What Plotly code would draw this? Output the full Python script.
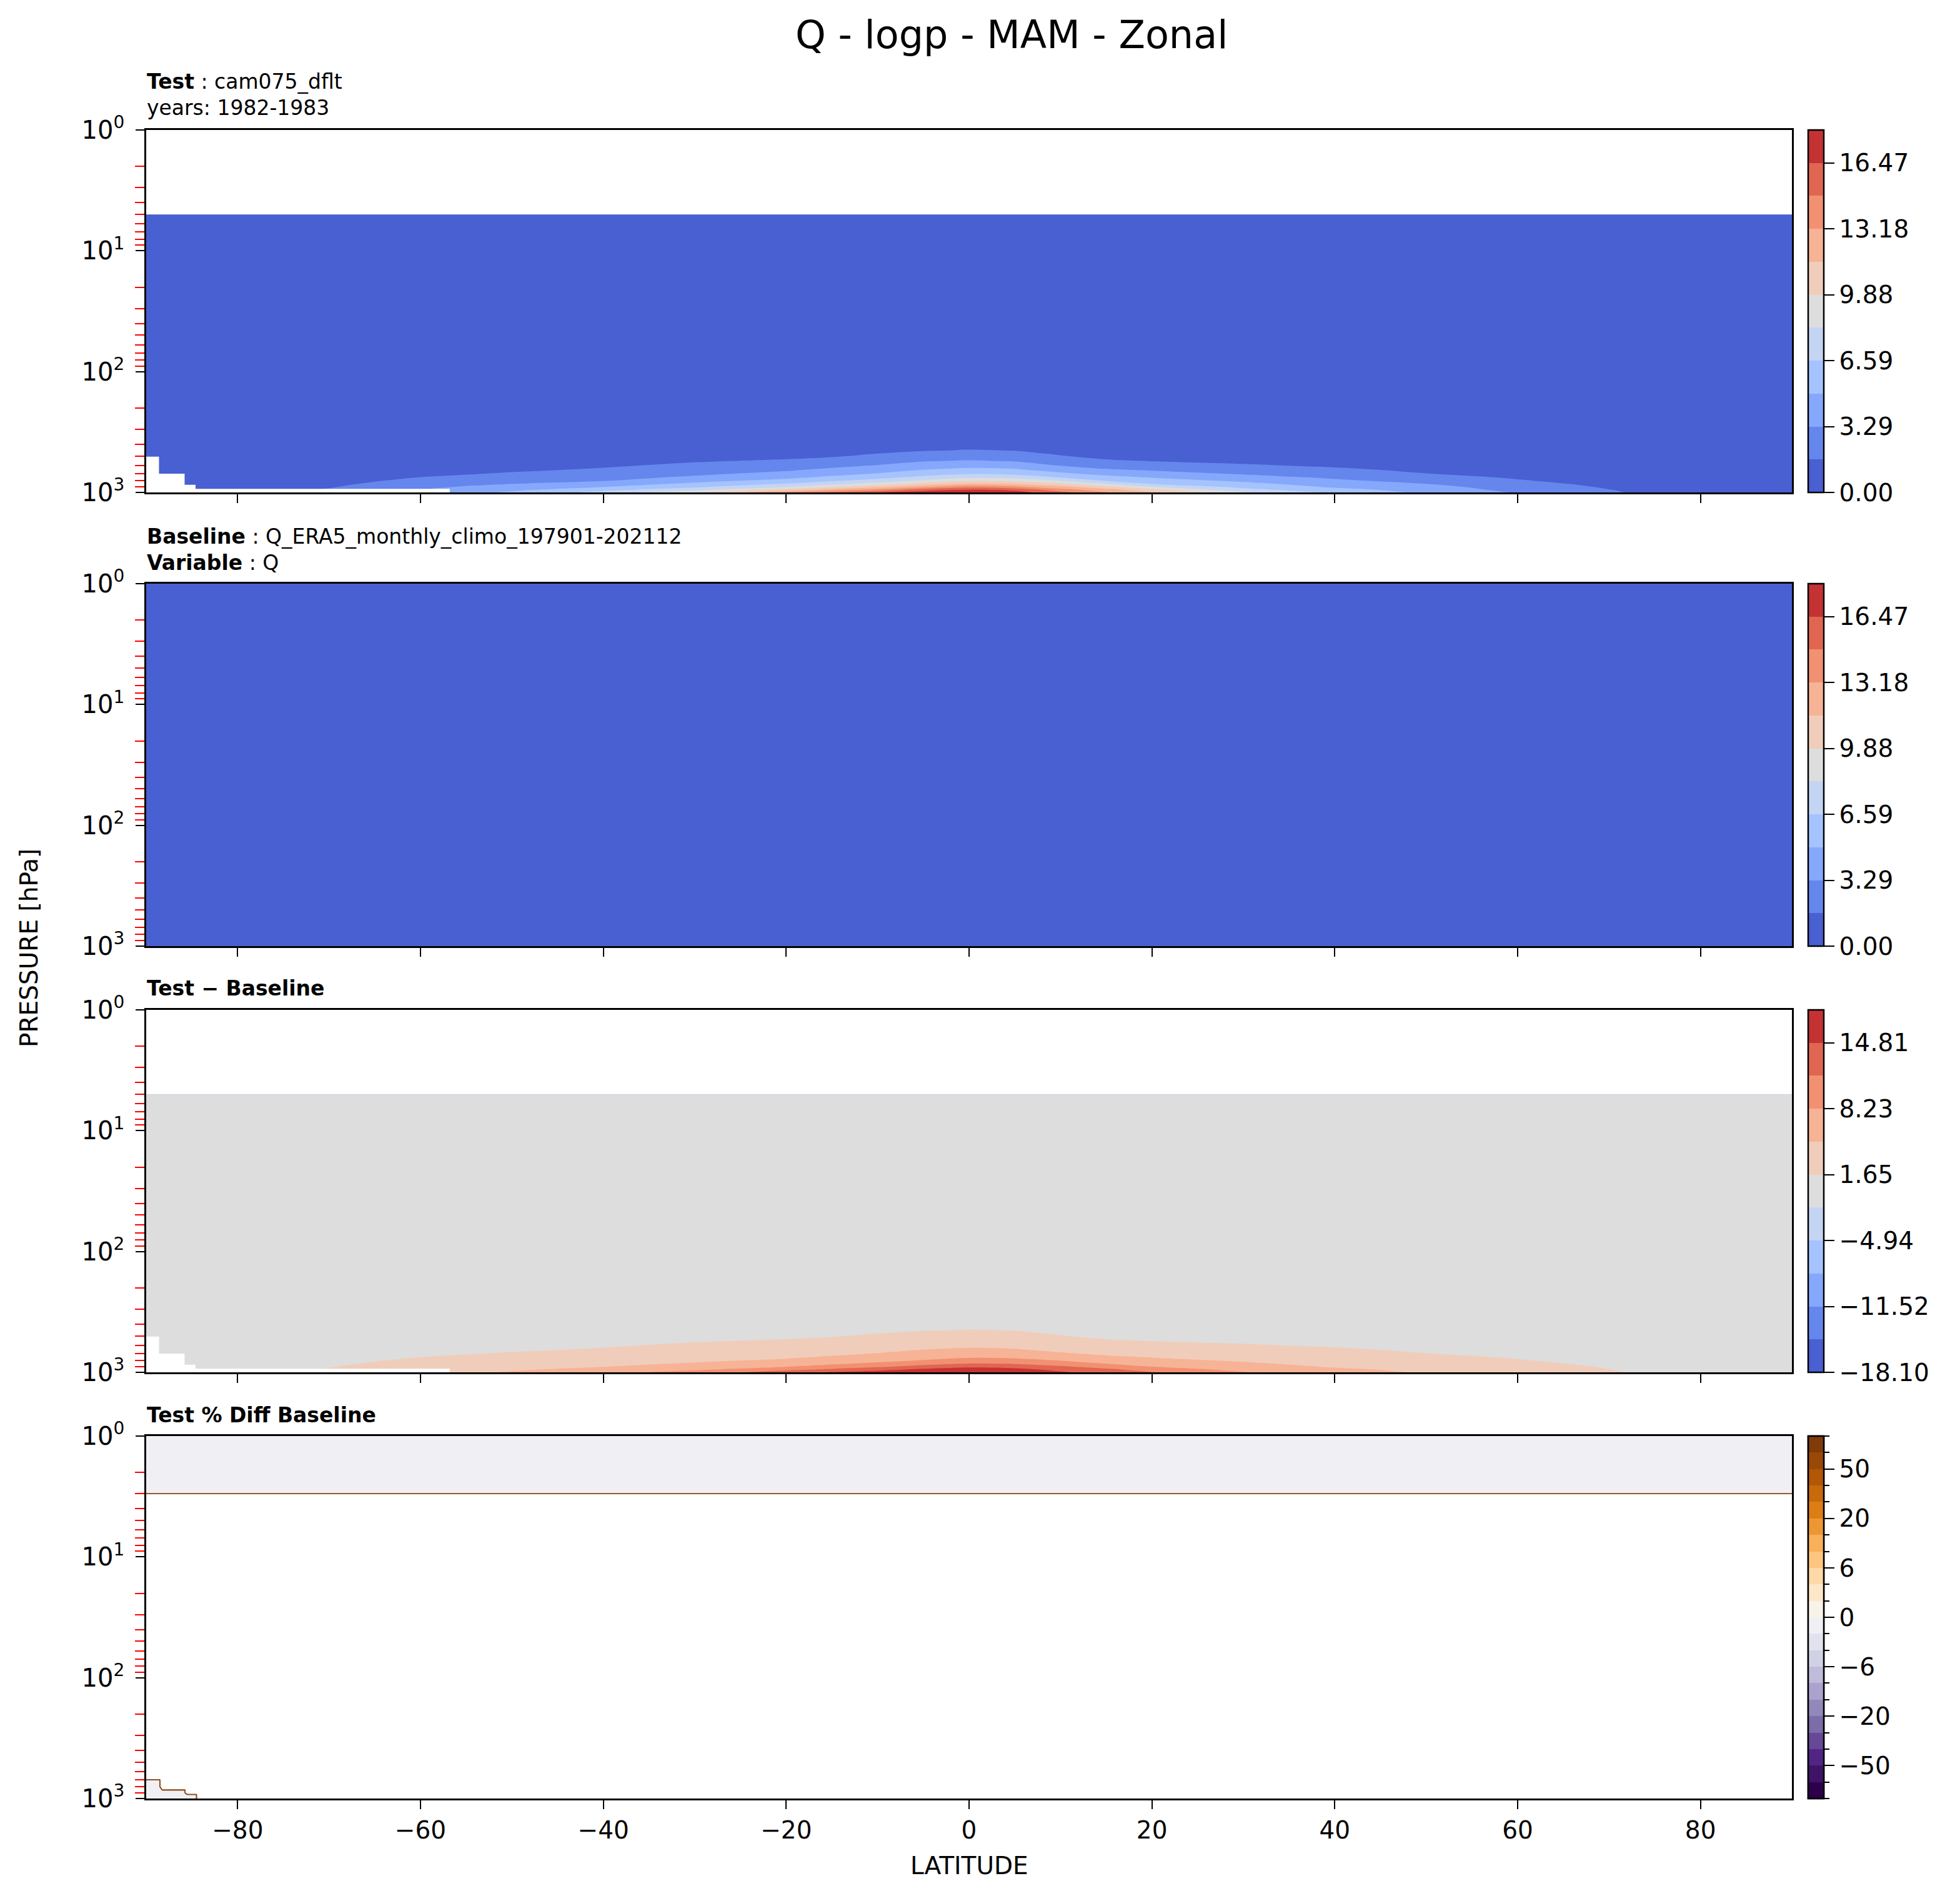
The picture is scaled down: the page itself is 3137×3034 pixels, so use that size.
import numpy as np
import plotly.graph_objects as go

W, H = 3137, 3034          # browser window
OFF = 8                     # default page margin of the html body
FW, FH = W - 2 * OFF, H - 2 * OFF
FONT = "DejaVu Sans"

# ---------------- data ----------------
lat = [-90, -80, -70, -60, -50, -40, -30, -20, -15, -10, -5, 0, 5, 10, 15, 20, 30, 40, 50, 60, 70, 80, 90]
lev = [5, 100, 300, 400, 450, 500, 550, 600, 650, 700, 750, 800, 850, 900, 950, 1000]

# Test Q [g/kg], rows follow lev, columns follow lat
q_test = [
    [0.0038, 0.0039, 0.0040, 0.0040, 0.0041, 0.0041, 0.0042, 0.0042, 0.0042, 0.0042, 0.0042, 0.0042, 0.0042, 0.0042, 0.0042, 0.0042, 0.0042, 0.0041, 0.0041, 0.0040, 0.0040, 0.0039, 0.0038],
    [0.002, 0.002, 0.002, 0.003, 0.003, 0.004, 0.005, 0.006, 0.007, 0.007, 0.008, 0.008, 0.008, 0.007, 0.007, 0.006, 0.005, 0.004, 0.003, 0.003, 0.002, 0.002, 0.002],
    [0.008, 0.010, 0.015, 0.030, 0.050, 0.080, 0.120, 0.170, 0.220, 0.280, 0.320, 0.350, 0.330, 0.250, 0.200, 0.150, 0.120, 0.080, 0.050, 0.030, 0.020, 0.015, 0.010],
    [0.02, 0.03, 0.05, 0.10, 0.18, 0.28, 0.40, 0.55, 0.70, 0.95, 1.10, 1.20, 1.15, 0.85, 0.60, 0.50, 0.40, 0.30, 0.20, 0.12, 0.07, 0.05, 0.04],
    [0.03, 0.05, 0.08, 0.16, 0.28, 0.43, 0.60, 0.85, 1.05, 1.30, 1.58, 1.72, 1.63, 1.20, 0.85, 0.75, 0.60, 0.45, 0.30, 0.20, 0.12, 0.08, 0.06],
    [0.04, 0.07, 0.13, 0.26, 0.45, 0.68, 0.95, 1.25, 1.50, 1.94, 2.39, 2.56, 2.41, 1.73, 1.20, 1.05, 0.90, 0.70, 0.45, 0.30, 0.18, 0.12, 0.09],
    [0.05, 0.10, 0.20, 0.40, 0.68, 1.00, 1.50, 1.89, 2.21, 2.66, 3.21, 3.43, 3.21, 2.51, 1.88, 1.62, 1.30, 1.00, 0.65, 0.45, 0.26, 0.17, 0.13],
    [0.07, 0.14, 0.30, 0.60, 1.00, 1.42, 2.02, 2.48, 2.90, 3.39, 4.07, 4.40, 4.18, 3.29, 2.67, 2.36, 1.86, 1.40, 0.95, 0.65, 0.36, 0.23, 0.17],
    [0.09, 0.19, 0.42, 0.85, 1.35, 1.88, 2.49, 3.08, 3.63, 4.20, 4.95, 5.39, 5.18, 4.26, 3.48, 3.10, 2.50, 1.97, 1.30, 0.90, 0.48, 0.30, 0.22],
    [0.11, 0.25, 0.58, 1.20, 1.84, 2.33, 2.96, 3.77, 4.40, 5.04, 5.90, 6.43, 6.16, 5.29, 4.45, 3.95, 3.13, 2.50, 1.68, 1.15, 0.62, 0.38, 0.28],
    [0.13, 0.32, 0.78, 1.68, 2.33, 2.78, 3.55, 4.53, 5.28, 6.05, 6.99, 7.84, 7.55, 6.47, 5.46, 4.85, 3.86, 3.03, 2.24, 1.45, 0.80, 0.47, 0.34],
    [0.16, 0.40, 1.00, 2.10, 2.81, 3.23, 4.42, 5.50, 6.41, 7.29, 8.47, 9.68, 9.41, 8.16, 6.49, 5.71, 4.63, 3.57, 2.78, 1.78, 1.00, 0.56, 0.40],
    [0.19, 0.50, 1.25, 2.50, 3.30, 4.04, 5.33, 6.74, 7.74, 8.98, 10.52, 11.72, 11.40, 10.21, 8.25, 6.56, 5.39, 4.14, 3.31, 2.15, 1.25, 0.65, 0.46],
    [0.22, 0.60, 1.52, 2.95, 3.92, 4.90, 6.30, 8.25, 9.66, 11.15, 12.85, 14.30, 13.59, 12.05, 10.50, 8.32, 6.14, 4.71, 3.85, 2.50, 1.48, 0.74, 0.52],
    [0.26, 0.70, 1.80, 3.30, 4.56, 6.07, 7.74, 10.67, 12.29, 13.69, 15.69, 16.50, 16.10, 13.90, 12.21, 10.33, 7.14, 5.56, 4.20, 2.85, 1.68, 0.82, 0.58],
    [0.30, 0.80, 2.00, 3.60, 5.30, 7.20, 9.70, 13.30, 15.10, 16.50, 17.40, 17.80, 17.20, 15.30, 13.30, 11.70, 8.50, 6.30, 4.60, 3.15, 1.80, 0.90, 0.64],
]

# below-ground (missing) region of the test data: per latitude band, the pressure below which data is missing
mask_lat_edges = [-90, -88.6, -85.8, -84.6, -56.8]
mask_top_lev = [505, 700, 865, 935]
mask_bottom_lev = 1000

# Baseline Q (ERA5, kg/kg)
base_lat = [-90, -60, -30, 0, 30, 60, 90]
base_lev = [1, 10, 100, 300, 500, 700, 850, 1000]
q_base = [
    [3.8e-6, 3.9e-6, 4.0e-6, 4.1e-6, 4.0e-6, 3.9e-6, 3.8e-6],
    [3.6e-6, 3.7e-6, 3.9e-6, 4.0e-6, 3.9e-6, 3.7e-6, 3.6e-6],
    [2.5e-6, 2.8e-6, 3.5e-6, 3.0e-6, 3.6e-6, 3.0e-6, 2.6e-6],
    [1.5e-5, 3.0e-5, 1.2e-4, 3.5e-4, 1.2e-4, 3.5e-5, 2.0e-5],
    [7.0e-5, 3.0e-4, 9.5e-4, 2.5e-3, 9.0e-4, 3.0e-4, 1.5e-4],
    [2.0e-4, 1.2e-3, 3.0e-3, 6.4e-3, 3.1e-3, 1.2e-3, 6.0e-4],
    [3.5e-4, 2.5e-3, 5.3e-3, 1.17e-2, 5.4e-3, 2.2e-3, 1.0e-3],
    [5.0e-4, 3.6e-3, 9.7e-3, 1.78e-2, 8.5e-3, 3.2e-3, 1.6e-3],
]

# Test % Diff Baseline
pct_lat = [-90, -88.5, -88.25, -85.75, -85.5, -84.5, -84.25, 90]
pct_lev = [1, 2, 3, 5, 650, 700, 800, 850, 900, 925, 1000]
pct_vals = [
    [-0.9, -0.9, -0.9, -0.9, -0.9, -0.9, -0.9, -0.9],
    [-0.9, -0.9, -0.9, -0.9, -0.9, -0.9, -0.9, -0.9],
    [-0.9, -0.9, -0.9, -0.9, -0.9, -0.9, -0.9, -0.9],
    [99900, 99900, 99900, 99900, 99900, 99900, 99900, 99900],
    [99900, 99900, 99900, 99900, 99900, 99900, 99900, 99900],
    [-0.9, -0.9, 99900, 99900, 99900, 99900, 99900, 99900],
    [-0.9, -0.9, 99900, 99900, 99900, 99900, 99900, 99900],
    [-0.9, -0.9, -0.9, -0.9, 99900, 99900, 99900, 99900],
    [-0.9, -0.9, -0.9, -0.9, 99900, 99900, 99900, 99900],
    [-0.9, -0.9, -0.9, -0.9, -0.9, -0.9, 99900, 99900],
    [-0.9, -0.9, -0.9, -0.9, -0.9, -0.9, 99900, 99900],
]

q_level_max = 18.12
q_tick_text = ["0.00", "3.29", "6.59", "9.88", "13.18", "16.47"]
diff_level_lim = 18.10
diff_tick_text = ["\u221218.10", "\u221211.52", "\u22124.94", "1.65", "8.23", "14.81"]
pct_levels = [-100, -75, -50, -40, -30, -20, -10, -8, -6, -4, -2, 0, 2, 4, 6, 8, 10, 20, 30, 40, 50, 75, 100]
pct_tick_levels = [-50, -20, -6, 0, 6, 20, 50]
lat_ticks = [-80, -60, -40, -20, 0, 20, 40, 60, 80]
p_ticks = [1, 10, 100, 1000]
p_tick_text = ["10<sup>0</sup>", "10<sup>1</sup>", "10<sup>2</sup>", "10<sup>3</sup>"]

# ---------------- colours ----------------
coolwarm11 = ["#4860D1", "#6586ED", "#85A8FC", "#A5C3FE", "#C3D5F3", "#DDDDDD",
              "#F0CDBA", "#F7B396", "#F29072", "#E06651", "#C53233"]
puor_anchor = ["#2d004b", "#542788", "#8073ac", "#b2abd2", "#d8daeb", "#f7f7f7",
               "#fee0b6", "#fdb863", "#e08214", "#b35806", "#7f3b08"]


def hex2rgb(h):
    h = h.lstrip("#")
    return [int(h[i:i + 2], 16) for i in (0, 2, 4)]


anch = np.array([hex2rgb(c) for c in puor_anchor], float)
apos = np.linspace(0, 1, len(puor_anchor))
n_pct_bins = len(pct_levels) - 1
puor22 = []
for i in range(n_pct_bins):
    t = i / (n_pct_bins - 1)
    rgb = [int(round(np.interp(t, apos, anch[:, k]))) for k in range(3)]
    puor22.append("rgb(%d,%d,%d)" % tuple(rgb))
BROWN = "#8a4510"


def contour_scale(colors):
    nb = len(colors)
    nc = nb + 1
    scl = []
    for k, c in enumerate(colors):
        lo = 0.0 if k == 0 else (k + 0.5) / nc
        hi = 1.0 if k == nb - 1 else (k + 1.5) / nc
        scl += [[lo, c], [hi, c]]
    return scl


def bar_scale(colors):
    nb = len(colors)
    scl = []
    for k, c in enumerate(colors):
        scl += [[k / nb, c], [(k + 1) / nb, c]]
    return scl


# ---------------- derived fields ----------------
tst = np.array(q_test, float)
qb = np.array(q_base, float)
lg = np.log(base_lev)
tmp = np.array([[np.interp(np.log(p), lg, qb[:, j]) for j in range(len(base_lat))] for p in lev])
base_on_test = np.array([np.interp(lat, base_lat, tmp[i]) for i in range(len(lev))])
diff = tst - base_on_test

q_size = q_level_max / 11
q_levels = [q_size * k for k in range(12)]
d_size = 2 * diff_level_lim / 11
d_levels = [-diff_level_lim + d_size * k for k in range(12)]

# mask outline from the mask arrays
mask_x = [mask_lat_edges[0]]
mask_y = [mask_bottom_lev]
for i, ptop in enumerate(mask_top_lev):
    mask_x += [mask_lat_edges[i], mask_lat_edges[i + 1]]
    mask_y += [ptop, ptop]
mask_x += [mask_lat_edges[-1], mask_lat_edges[0]]
mask_y += [mask_bottom_lev, mask_bottom_lev]


# ---------------- layout geometry (page pixels -> paper) ----------------
def px(xp):
    return (xp - OFF) / FW


def py(yp):
    return 1 - (yp - OFF) / FH


px_left, px_right = 234, 2868
panels_px = [(208, 788), (934, 1514), (1616, 2196), (2298, 2878)]
xdom = [px(px_left), px(px_right)]
ydoms = [[py(b), py(t)] for t, b in panels_px]
ycen = [py((t + b) / 2) for t, b in panels_px]
plen = 580 / FH

fig = go.Figure()


def ax_names(i):
    return ("x" if i == 0 else "x%d" % (i + 1)), ("y" if i == 0 else "y%d" % (i + 1))


def cbar(i, tickvals, ticktext, ticklen=16, labels=True):
    return dict(x=px(2894), xanchor="left", y=ycen[i], yanchor="middle", len=plen, lenmode="fraction",
                thickness=25, thicknessmode="pixels", outlinewidth=2.5, outlinecolor="black",
                xpad=0, ypad=0, tickmode="array", tickvals=tickvals, ticktext=ticktext,
                ticks="outside", ticklen=ticklen, tickwidth=2.2, tickcolor="black",
                showticklabels=labels, tickfont=dict(family=FONT, size=39, color="black"))


def cbar_trace(i, scl, cmin, cmax, cb):
    xa, ya = ax_names(i)
    return go.Scatter(x=[None], y=[None], xaxis=xa, yaxis=ya, mode="markers", showlegend=False,
                      hoverinfo="skip",
                      marker=dict(color=[cmin], colorscale=scl, cmin=cmin, cmax=cmax, size=1,
                                  showscale=True, colorbar=cb))


def mask_trace(i):
    xa, ya = ax_names(i)
    return go.Scatter(x=mask_x, y=mask_y, xaxis=xa, yaxis=ya, mode="lines", fill="toself",
                      fillcolor="white", line=dict(width=0, color="white"), showlegend=False,
                      hoverinfo="skip")


# panel 1: test
fig.add_trace(go.Contour(x=lat, y=lev, z=tst, xaxis="x", yaxis="y", colorscale=contour_scale(coolwarm11),
                         autocontour=False,
                         contours=dict(start=0, end=q_level_max, size=q_size, coloring="fill", showlines=False),
                         line=dict(width=0, smoothing=1), showscale=False, hoverinfo="skip"))
fig.add_trace(mask_trace(0))
fig.add_trace(cbar_trace(0, bar_scale(coolwarm11), 0, q_level_max,
                         cbar(0, [q_levels[k] for k in range(0, 11, 2)], q_tick_text)))

# panel 2: baseline
fig.add_trace(go.Contour(x=base_lat, y=base_lev, z=qb, xaxis="x2", yaxis="y2", colorscale=contour_scale(coolwarm11),
                         autocontour=False,
                         contours=dict(start=0, end=q_level_max, size=q_size, coloring="fill", showlines=False),
                         line=dict(width=0, smoothing=1), showscale=False, hoverinfo="skip"))
fig.add_trace(cbar_trace(1, bar_scale(coolwarm11), 0, q_level_max,
                         cbar(1, [q_levels[k] for k in range(0, 11, 2)], q_tick_text)))

# panel 3: difference
fig.add_trace(go.Contour(x=lat, y=lev, z=diff, xaxis="x3", yaxis="y3", colorscale=contour_scale(coolwarm11),
                         autocontour=False,
                         contours=dict(start=-diff_level_lim, end=diff_level_lim, size=d_size, coloring="fill",
                                       showlines=False),
                         line=dict(width=0, smoothing=1), showscale=False, hoverinfo="skip"))
fig.add_trace(mask_trace(2))
fig.add_trace(cbar_trace(2, bar_scale(coolwarm11), -diff_level_lim, diff_level_lim,
                         cbar(2, [d_levels[k] for k in range(0, 11, 2)], diff_tick_text)))

# panel 4: percent difference
grey_bin = puor22[pct_levels.index(0) - 1]
fig.add_trace(go.Contour(x=pct_lat, y=pct_lev, z=pct_vals, xaxis="x4", yaxis="y4",
                         colorscale=[[0, grey_bin], [0.25, grey_bin], [0.25, BROWN], [0.75, BROWN],
                                     [0.75, "white"], [1, "white"]],
                         autocontour=False,
                         contours=dict(start=0, end=100, size=100, coloring="fill", showlines=True),
                         line=dict(color=BROWN, width=1.6, smoothing=0), showscale=False, hoverinfo="skip"))
idx_major = [pct_levels.index(v) for v in pct_tick_levels]
fig.add_trace(cbar_trace(3, bar_scale(puor22), 0, n_pct_bins,
                         cbar(3, list(range(n_pct_bins + 1)), [""] * (n_pct_bins + 1), ticklen=8, labels=False)))
fig.add_trace(cbar_trace(3, bar_scale(puor22), 0, n_pct_bins,
                         cbar(3, idx_major, [("\u2212%d" % -v) if v < 0 else str(v) for v in pct_tick_levels])))

# ---------------- axes ----------------
minor_vals = [m * 10 ** d for d in range(3) for m in range(2, 10)]
layout = dict(width=FW, height=FH, margin=dict(l=0, r=0, t=0, b=0), paper_bgcolor="white",
              plot_bgcolor="white", showlegend=False, font=dict(family=FONT, color="black", size=39))
for i in range(4):
    xk = "xaxis" if i == 0 else "xaxis%d" % (i + 1)
    yk = "yaxis" if i == 0 else "yaxis%d" % (i + 1)
    xa, ya = ax_names(i)
    layout[xk] = dict(domain=xdom, anchor=ya, range=[-90, 90], showline=True, linecolor="black", linewidth=2.5,
                      mirror=True, ticks="outside", ticklen=14, tickwidth=2.2, tickcolor="black",
                      tickmode="array", tickvals=lat_ticks, showticklabels=(i == 3), showgrid=False,
                      zeroline=False, automargin=False, tickfont=dict(size=39, family=FONT, color="black"))
    layout[yk] = dict(domain=ydoms[i], anchor=xa, type="log", range=[3, 0], showline=True, linecolor="black",
                      linewidth=2.5, mirror=True, ticks="outside", ticklen=14, tickwidth=2.2, tickcolor="black",
                      tickmode="array", tickvals=p_ticks, ticktext=p_tick_text, showgrid=False, zeroline=False,
                      automargin=False, ticklabelstandoff=10,
                      tickfont=dict(size=40, family=FONT, color="black"),
                      minor=dict(tickmode="array", tickvals=minor_vals, ticks="outside", ticklen=15,
                                 tickwidth=2.2, tickcolor="red", showgrid=False))


def ann(text, xp, yp, size, xanchor="left", yanchor="bottom", angle=0):
    return dict(text=text, x=px(xp), y=py(yp), xref="paper", yref="paper", showarrow=False,
                xanchor=xanchor, yanchor=yanchor, textangle=angle,
                font=dict(family=FONT, size=size, color="black"))


annotations = [
    ann("Q - logp - MAM - Zonal", 1619, 56, 62, xanchor="center", yanchor="middle"),
    ann("<b>Test</b> : cam075_dflt", 233, 152, 33),
    ann("years: 1982-1983", 233, 194, 33),
    ann("<b>Baseline</b> : Q_ERA5_monthly_climo_197901-202112", 233, 880, 33),
    ann("<b>Variable</b> : Q", 233, 922, 33),
    ann("<b>Test \u2212 Baseline</b>", 233, 1603, 33),
    ann("<b>Test % Diff Baseline</b>", 233, 2286, 33),
    ann("PRESSURE [hPa]", 46, 1517, 39, xanchor="center", yanchor="middle", angle=-90),
    ann("LATITUDE", 1551, 2985, 39, xanchor="center", yanchor="middle"),
]
layout["annotations"] = annotations
fig.update_layout(**layout)

fig.write_html("out.html")
